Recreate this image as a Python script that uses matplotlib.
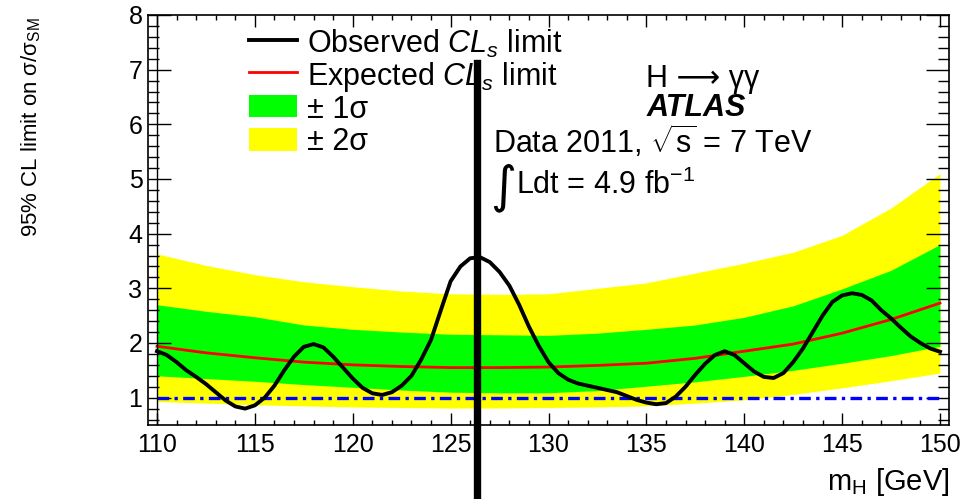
import matplotlib
matplotlib.use("Agg")
import matplotlib.pyplot as plt
import numpy as np
from matplotlib.lines import Line2D
from matplotlib.patches import Rectangle
from matplotlib.ticker import MultipleLocator
import matplotlib.transforms as mtransforms

plt.rcParams['font.family'] = ['Liberation Sans', 'DejaVu Sans']
plt.rcParams['mathtext.fontset'] = 'custom'
plt.rcParams['mathtext.rm'] = 'Liberation Sans'
plt.rcParams['mathtext.it'] = 'Liberation Sans:italic'
plt.rcParams['mathtext.bf'] = 'Liberation Sans:bold'

# Observed CLs limit (0.5 GeV steps)
mass_obs = np.arange(110, 150.01, 0.5)
obs = [1.85, 1.78, 1.65, 1.50, 1.38, 1.25, 1.10, 0.95, 0.84, 0.80,
       0.86, 1.00, 1.22, 1.50, 1.75, 1.93, 1.98, 1.92, 1.75, 1.55,
       1.35, 1.18, 1.08, 1.05, 1.10, 1.22, 1.40, 1.70, 2.06, 2.60,
       3.13, 3.40, 3.55, 3.57, 3.48, 3.30, 3.05, 2.70, 2.30, 1.95,
       1.65, 1.45, 1.33, 1.26, 1.22, 1.18, 1.14, 1.10, 1.03, 0.96,
       0.91, 0.88, 0.90, 1.02, 1.20, 1.42, 1.62, 1.78, 1.85, 1.78,
       1.63, 1.48, 1.38, 1.36, 1.45, 1.65, 1.90, 2.20, 2.50, 2.75,
       2.87, 2.91, 2.88, 2.78, 2.60, 2.45, 2.28, 2.12, 2.00, 1.90,
       1.84]

# Expected limit and bands (2.5 GeV steps)
mass_exp = np.arange(110, 150.01, 2.5)
exp_med = [1.94, 1.82, 1.73, 1.65, 1.60, 1.57, 1.55, 1.55, 1.56,
           1.59, 1.63, 1.72, 1.85, 1.98, 2.18, 2.43, 2.73]
one_hi = [2.70, 2.58, 2.48, 2.33, 2.25, 2.20, 2.16, 2.15, 2.14,
          2.18, 2.25, 2.33, 2.47, 2.68, 2.99, 3.33, 3.80]
one_lo = [1.40, 1.35, 1.30, 1.24, 1.19, 1.14, 1.10, 1.09, 1.09,
          1.13, 1.21, 1.29, 1.39, 1.50, 1.63, 1.77, 1.94]
two_hi = [3.63, 3.42, 3.25, 3.12, 3.03, 2.95, 2.90, 2.89, 2.90,
          3.00, 3.10, 3.28, 3.46, 3.66, 3.97, 4.47, 5.10]
two_lo = [0.93, 0.90, 0.87, 0.85, 0.83, 0.82, 0.81, 0.81, 0.82,
          0.83, 0.85, 0.90, 0.96, 1.06, 1.18, 1.31, 1.45]

fig = plt.figure(figsize=(9.73, 4.99), dpi=100)
ax = fig.add_axes([148/973, 1-425/499, 801/973, 410/499])

ax.fill_between(mass_exp, two_lo, two_hi, color='#ffff00', lw=0)
ax.fill_between(mass_exp, one_lo, one_hi, color='#00ff00', lw=0)
ax.plot(mass_exp, exp_med, color='#ff0000', lw=2.0)
ax.plot([110, 150], [1, 1], color='#0000ff', lw=2.4, linestyle=(0, (3.5, 1.6, 1, 1.6)))
ax.plot(mass_obs, obs, color='black', lw=2.8)
ax.axvline(110, color='black', lw=1.0)

ax.set_xlim(109.54, 150.46)
ax.set_ylim(0.5, 8)
ax.xaxis.set_major_locator(MultipleLocator(5))
ax.xaxis.set_minor_locator(MultipleLocator(1))
ax.yaxis.set_major_locator(MultipleLocator(1))
ax.yaxis.set_minor_locator(MultipleLocator(0.2))
ax.tick_params(which='both', direction='in', top=True, right=True, width=1.0)
ax.tick_params(axis='x', which='major', length=8.5, pad=6, labelsize=18)
ax.tick_params(axis='x', which='minor', length=3.5)
ax.tick_params(axis='y', which='major', length=16.5, pad=4, labelsize=18)
ax.tick_params(axis='y', which='minor', length=8)
for s in ax.spines.values():
    s.set_linewidth(1.2)

fig.text(31/973, 1-17/499, r'95% CL limit on σ/σ$_{\mathrm{SM}}$',
         rotation=90, ha='center', va='top', fontsize=16)
fig.text(950/973, 1-482/499, r'm$_{\mathrm{H}}$ [GeV]', ha='right', va='center', fontsize=21)

# legend, placed by hand
def fx(px):
    return px / 973

def fy(py):
    return 1 - py / 499

fig.add_artist(Line2D([fx(249), fx(297)], [fy(40), fy(40)], color='black', lw=2.8))
fig.add_artist(Line2D([fx(249), fx(297)], [fy(72), fy(72)], color='#ff0000', lw=2.0))
fig.add_artist(Rectangle((fx(249), fy(117)), fx(48), 22/499, facecolor='#00ff00', lw=0))
fig.add_artist(Rectangle((fx(249), fy(151)), fx(48), 23/499, facecolor='#ffff00', lw=0))
leg_size = 22
fig.text(fx(307), fy(40), r'Observed $CL_s$ limit', ha='left', va='center_baseline', fontsize=leg_size)
fig.text(fx(307), fy(72), r'Expected $CL_s$ limit', ha='left', va='center_baseline', fontsize=leg_size)
fig.text(fx(307), fy(106), '± 1σ', ha='left', va='center_baseline', fontsize=leg_size)
fig.text(fx(307), fy(139), '± 2σ', ha='left', va='center_baseline', fontsize=leg_size)

fig.text(fx(646), fy(75), 'H ⟶ γγ', ha='left', va='center_baseline', fontsize=22)
fig.text(fx(647), fy(105), 'ATLAS', ha='left', va='center_baseline', fontsize=22,
         fontweight='bold', fontstyle='italic')
fig.text(fx(493), fy(138), r'Data 2011, $\sqrt{\mathrm{s}}$ = 7 TeV', ha='left',
         va='center_baseline', fontsize=22)
fig.text(fx(490), fy(188), '∫', ha='left', va='center', fontsize=36, family='DejaVu Sans')
fig.text(fx(516), fy(182), r'Ldt = 4.9 fb$^{\mathrm{-1}}$', ha='left', va='center_baseline', fontsize=22)

# thick vertical marker line
trans = mtransforms.blended_transform_factory(ax.transData, fig.transFigure)
ax.plot([126.35, 126.35], [0, fy(63)], color='black', lw=5.3,
        transform=trans, clip_on=False, zorder=10)

fig.savefig('out.png', dpi=100)
